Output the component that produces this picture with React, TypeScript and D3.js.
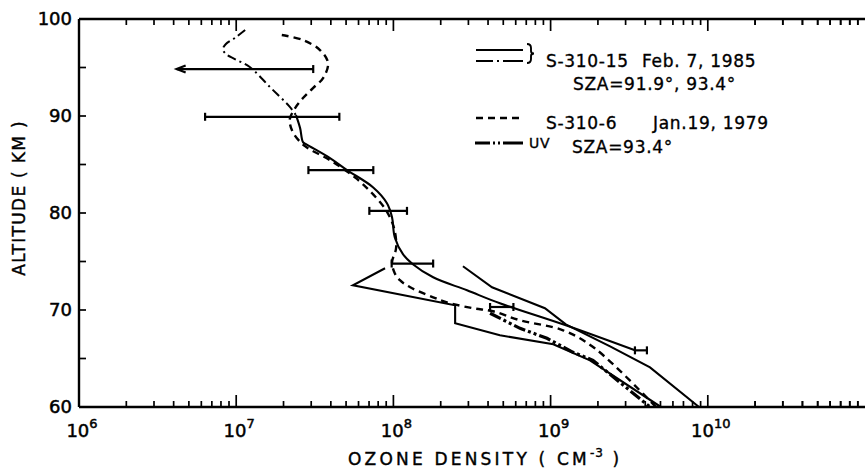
import React from 'react';
import * as d3 from 'd3';

const W = 865;
const H = 469;

// S-310-15, Feb. 7, 1985 — upper part (dash-dot)
const s15DashDot: [number, number][] = [
  [1.14e7, 98.86], [9.8e6, 98.04], [8.6e6, 97.42], [8.24e6, 96.9], [8.6e6, 96.39],
  [9.8e6, 95.87], [1.22e7, 95.05], [1.64e7, 92.98], [2.2e7, 90.92], [2.4e7, 90.09],
];
// S-310-15 main solid profile
const s15Solid: [number, number][] = [
  [2.4e7, 90.09], [2.55e7, 88.75], [2.66e7, 87.31], [2.78e7, 87.1], [3.95e7, 85.66],
  [5.07e7, 84.42], [7.41e7, 82.66], [9.1e7, 81.01], [9.8e7, 79.57], [1.02e8, 77.5],
  [1.15e8, 75.75], [1.33e8, 74.72], [1.79e8, 73.37], [2.94e8, 72.03], [4.76e8, 70.69],
  [1.25e9, 68.42], [3.44e9, 65.84],
];
// S-310-15 second solid (lower altitudes)
const s15SolidB: [number, number][] = [
  [2.77e8, 74.51], [4.24e8, 72.34], [9.2e8, 70.18], [1.25e9, 68.52], [2.39e9, 66.25],
  [4.29e9, 64.09], [8.79e9, 60.0],
];
// S-310-15 third solid (zigzag)
const s15SolidC: [number, number][] = [
  [8.85e7, 74.3], [5.53e7, 72.55], [2.47e8, 70.49], [2.47e8, 68.63], [4.76e8, 67.39],
  [1.04e9, 66.46], [1.78e9, 64.81], [5.03e9, 60.0],
];
// S-310-6, Jan. 19, 1979 (dashed)
const s6Dashed: [number, number][] = [
  [1.95e7, 98.35], [2.66e7, 97.83], [3.41e7, 96.8], [3.84e7, 95.46], [3.57e7, 93.91],
  [3.08e7, 92.88], [2.66e7, 91.85], [2.37e7, 90.82], [2.2e7, 89.78], [2.2e7, 89.16],
  [2.33e7, 88.13], [2.74e7, 86.89], [3.95e7, 85.45], [5.78e7, 83.59], [7.41e7, 81.94],
  [8.97e7, 80.29], [1.01e8, 78.43], [1.04e8, 76.37], [9.8e7, 74.92], [1.02e8, 73.79],
  [1.1e8, 73.07], [1.28e8, 72.34], [1.79e8, 71.31], [2.19e8, 70.79], [3.21e8, 70.18],
  [4.3e8, 69.87], [6.39e8, 68.94], [1.2e9, 67.91], [1.91e9, 66.05], [4.68e9, 60.0],
];
// UV, SZA = 93.4°
const uvLine: [number, number][] = [
  [4.12e8, 69.66], [6.39e8, 68.11], [9.48e8, 67.08], [1.39e9, 65.64], [1.86e9, 64.81],
  [4.29e9, 60.0],
];
// Error bars
const errAlt = [94.84, 89.92, 84.42, 80.22, 74.79, 70.31, 65.84];
const errLo = [4.18e6, 6.34e6, 2.88e7, 7.03e7, 9.75e7, 4.12e8, 3.44e9];
const errHi = [3.09e7, 4.53e7, 7.45e7, 1.22e8, 1.79e8, 5.8e8, 4.1e9];
const errArrow = [true, false, false, false, false, false, false];

const decades = [6, 7, 8, 9, 10];
const altTicks = [60, 65, 70, 75, 80, 85, 90, 95, 100];
const altLabels = [60, 70, 80, 90, 100];

const FONT = 'DejaVu Sans';

export default function App() {
  const x = d3.scaleLog().domain([1e6, 1e11]).range([79, 865]);
  const y = d3.scaleLinear().domain([60, 100]).range([407, 19]);

  const smooth = d3.line<[number, number]>().x(d => x(d[0])).y(d => y(d[1])).curve(d3.curveCatmullRom.alpha(0.5));
  const straight = d3.line<[number, number]>().x(d => x(d[0])).y(d => y(d[1]));

  const minorTicks: { v: number; major: boolean }[] = [];
  decades.forEach(dec => {
    for (let m = 1; m <= 9; m++) {
      const v = m * Math.pow(10, dec);
      minorTicks.push({ v, major: m === 1 });
    }
  });
  for (let m = 2; m <= 9; m++) minorTicks.push({ v: m * 1e10, major: false });

  const left = 79;
  const top = 19;
  const bottom = 407;
  const right = 865;

  return (
    <svg width={W} height={H} style={{ position: 'absolute', left: 0, top: 0, background: '#fff' }}>
      <rect x={0} y={0} width={W} height={H} fill="#fff" />
      {/* axes */}
      <g stroke="#000" fill="none">
        <line x1={left} y1={top} x2={right} y2={top} strokeWidth={2.4} />
        <line x1={left} y1={bottom} x2={right} y2={bottom} strokeWidth={2.4} />
        <line x1={left} y1={top} x2={left} y2={bottom} strokeWidth={2.4} />
        {minorTicks.map((t, i) => (
          <g key={i}>
            <line x1={x(t.v)} x2={x(t.v)} y1={top} y2={top + (t.major && t.v > 1e6 ? 12 : 6)} strokeWidth={1.7} />
            <line x1={x(t.v)} x2={x(t.v)} y1={bottom} y2={bottom - (t.major && t.v > 1e6 ? 12 : 6)} strokeWidth={1.7} />
          </g>
        ))}
        {altTicks.map(a => (
          <line key={a} x1={left} x2={left + 7} y1={y(a)} y2={y(a)} strokeWidth={1.7} />
        ))}
      </g>
      {/* tick labels */}
      <g fontFamily={FONT} fontSize={18} fill="#000" stroke="#000" strokeWidth={0.5}>
        {altLabels.map(a => (
          <text key={a} x={72} y={y(a)} dy="0.36em" textAnchor="end">{a}</text>
        ))}
        {decades.map(d => (
          <text key={d} x={x(Math.pow(10, d)) + 3} y={437} textAnchor="middle">
            <tspan>10</tspan>
            <tspan dy={-9} fontSize={13}>{d}</tspan>
          </text>
        ))}
      </g>
      {/* axis titles */}
      <g fontFamily={FONT} fill="#000" stroke="#000" strokeWidth={0.4}>
        <text fontSize={17} letterSpacing={1.3} textAnchor="middle"
          transform={`translate(25,198) rotate(-90)`}>ALTITUDE ( KM )</text>
        <text fontSize={17} letterSpacing={3.2} x={348} y={465}>
          <tspan>OZONE  DENSITY ( CM</tspan>
          <tspan dy={-8} fontSize={12} letterSpacing={1}>-3</tspan>
          <tspan dy={8}> )</tspan>
        </text>
      </g>

      {/* data curves */}
      <g fill="none" stroke="#000">
        <path d={smooth(s15DashDot) || ''} strokeWidth={2} strokeDasharray="9 4 2 4" />
        <path d={smooth(s15Solid) || ''} strokeWidth={2.1} />
        <path d={straight(s15SolidB) || ''} strokeWidth={2.1} />
        <path d={straight(s15SolidC) || ''} strokeWidth={2.1} />
        <path d={smooth(s6Dashed) || ''} strokeWidth={2.4} strokeDasharray="7 5" />
        <path d={straight(uvLine) || ''} strokeWidth={3.2} strokeDasharray="12 3 3 3 3 3" />
      </g>
      {/* error bars */}
      <g stroke="#000" strokeWidth={2.2} fill="none">
        {errAlt.map((a, i) => {
          const yy = y(a);
          const x1 = x(errLo[i]);
          const x2 = x(errHi[i]);
          return (
            <g key={i}>
              <line x1={x1} x2={x2} y1={yy} y2={yy} />
              <line x1={x2} x2={x2} y1={yy - 4} y2={yy + 4} />
              {errArrow[i] ? (
                <path d={`M${x1 + 9},${yy - 3.5} L${x1},${yy} L${x1 + 9},${yy + 3.5}`} />
              ) : (
                <line x1={x1} x2={x1} y1={yy - 4} y2={yy + 4} />
              )}
            </g>
          );
        })}
      </g>

      {/* legend */}
      <g stroke="#000" fill="none">
        <line x1={476} x2={523} y1={50} y2={50} strokeWidth={2.2} />
        <line x1={476} x2={523} y1={61} y2={61} strokeWidth={2.2} strokeDasharray="17 4 2 4 30" />
        <path d="M527,44 Q531,44 531,48 L531,51 Q531,53.5 534,53.5 Q531,53.5 531,56 L531,59 Q531,63 527,63" strokeWidth={1.9} />
        <line x1={476} x2={520} y1={118} y2={118} strokeWidth={2.4} strokeDasharray="7 5" />
        <line x1={475} x2={523} y1={143} y2={143} strokeWidth={3.2} strokeDasharray="15 3 2 3 2 3 30" />
      </g>
      <g fontFamily={FONT} fontSize={17} fill="#000" stroke="#000" strokeWidth={0.35} letterSpacing={0.7}>
        <text x={546} y={67}>S-310-15</text>
        <text x={642} y={67}>Feb. 7, 1985</text>
        <text x={573} y={90}>SZA=91.9°, 93.4°</text>
        <text x={546} y={129}>S-310-6</text>
        <text x={653} y={129}>Jan.19, 1979</text>
        <text x={529} y={148} fontSize={14}>UV</text>
        <text x={572} y={153}>SZA=93.4°</text>
      </g>
    </svg>
  );
}
